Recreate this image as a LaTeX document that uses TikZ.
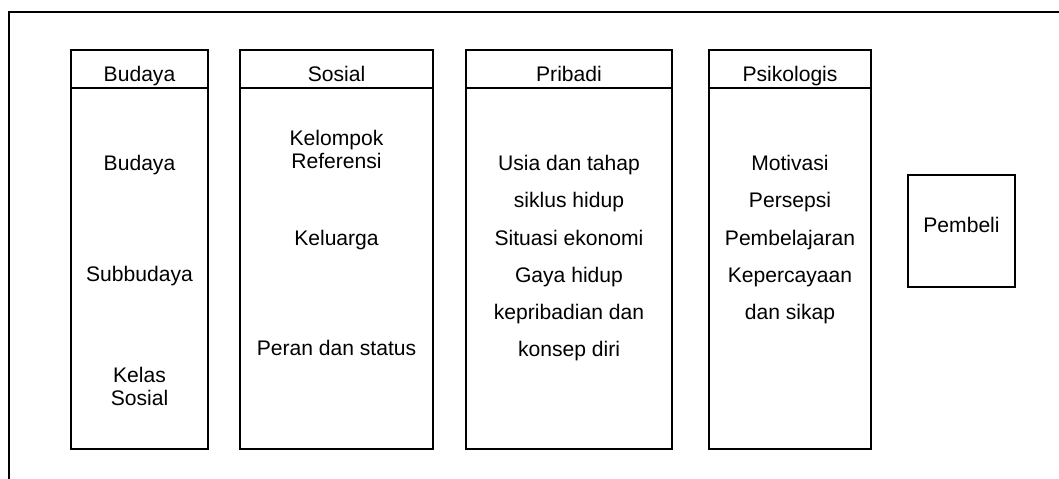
\documentclass[tikz,border=0pt]{standalone}
\usepackage{fontspec}
\setmainfont{Liberation Sans}
\begin{document}
\begin{tikzpicture}[x=0.025cm,y=-0.025cm,
		kolom/.style={draw,rectangle,line width=1.4pt,outer sep=0pt,inner sep=0pt,minimum height=9.975cm},
		garis/.style={line width=1.4pt},
		teks/.style={anchor=base,inner sep=0pt,font=\fontsize{15}{18}\selectfont}]
				\useasboundingbox (0,0) rectangle (1059,479);
				\coordinate (bawah) at (9,481);
				\coordinate (sudut) at (9,12);
				\coordinate (kanan) at (1061,12);
				\draw[garis] (bawah) -- (sudut) -- (kanan);

				\node[kolom,minimum width=3.425cm] (budaya) at (139.5,249.5) {};
				\node[kolom,minimum width=4.825cm] (sosial) at (336.5,249.5) {};
				\node[kolom,minimum width=5.15cm] (pribadi) at (569,249.5) {};
				\node[kolom,minimum width=4.05cm] (psikologis) at (790,249.5) {};
				\node[kolom,minimum width=2.675cm,minimum height=2.8cm] (pembeli) at (961.5,231) {};

				\draw[garis] ([yshift=-0.95cm]budaya.north west) -- ([yshift=-0.95cm]budaya.north east);
				\draw[garis] ([yshift=-0.95cm]sosial.north west) -- ([yshift=-0.95cm]sosial.north east);
				\draw[garis] ([yshift=-0.95cm]pribadi.north west) -- ([yshift=-0.95cm]pribadi.north east);
				\draw[garis] ([yshift=-0.95cm]psikologis.north west) -- ([yshift=-0.95cm]psikologis.north east);

				\node[teks] (h1) at (139.5,82) {Budaya};
				\node[teks] (h2) at (336.5,82) {Sosial};
				\node[teks] (h3) at (569,82) {Pribadi};
				\node[teks] (h4) at (790,82) {Psikologis};

				\node[teks] (b1) at (139.5,170) {Budaya};
				\node[teks] (b2) at (139.5,281) {Subbudaya};
				\node[teks] (b3) at (139.5,382) {Kelas};
				\node[teks] (b4) at (139.5,405) {Sosial};

				\node[teks] (s1) at (336.5,145.5) {Kelompok};
				\node[teks] (s2) at (336.5,169) {Referensi};
				\node[teks] (s3) at (336.5,245) {Keluarga};
				\node[teks] (s4) at (336.5,355) {Peran dan status};

				\node[teks] (p1) at (569,170) {Usia dan tahap};
				\node[teks] (p2) at (569,207.5) {siklus hidup};
				\node[teks] (p3) at (569,245) {Situasi ekonomi};
				\node[teks] (p4) at (569,282) {Gaya hidup};
				\node[teks] (p5) at (569,319) {kepribadian dan};
				\node[teks] (p6) at (569,356) {konsep diri};

				\node[teks] (k1) at (790,170) {Motivasi};
				\node[teks] (k2) at (790,207.5) {Persepsi};
				\node[teks] (k3) at (790,245) {Pembelajaran};
				\node[teks] (k4) at (790,282) {Kepercayaan};
				\node[teks] (k5) at (790,319) {dan sikap};

				\node[teks] (m1) at (961.5,232) {Pembeli};
			\end{tikzpicture}
\end{document}
